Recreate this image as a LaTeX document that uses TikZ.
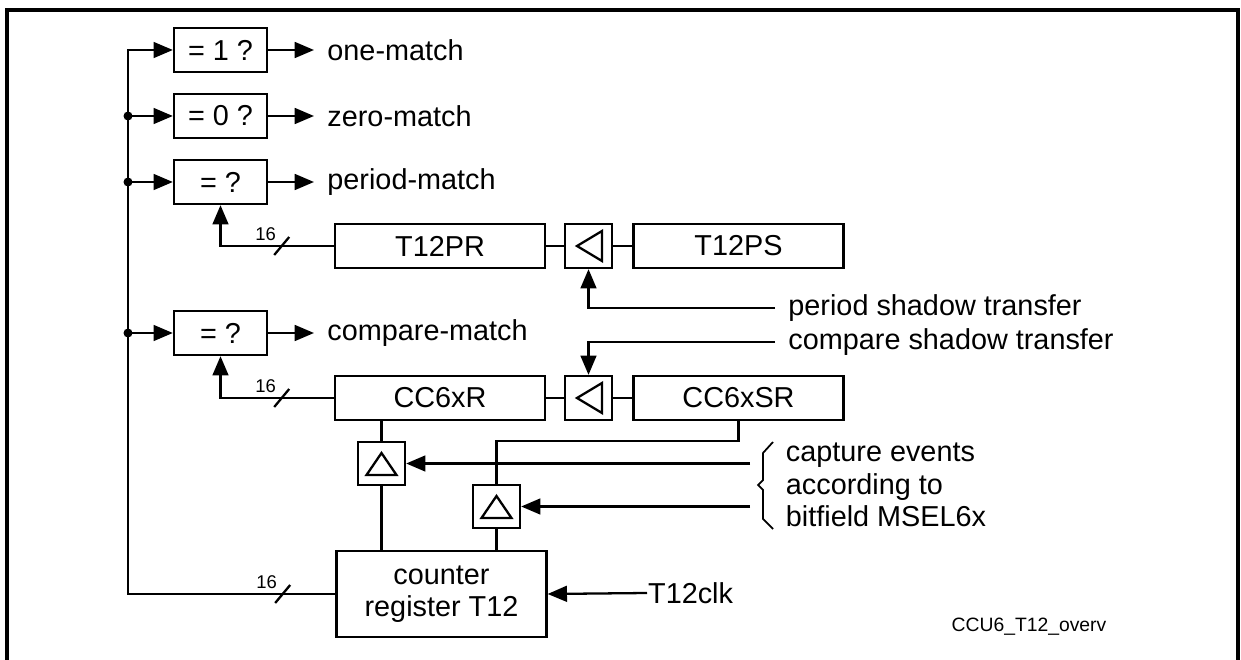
\documentclass[tikz,border=0pt]{standalone}
\usepackage{fontspec}
\setmainfont{Liberation Sans}
\usetikzlibrary{arrows.meta}

\begin{document}
\begin{tikzpicture}[>={Triangle[length=11pt,width=9pt]}, line width=1.3pt,
  font=\fontsize{16.4}{18.4}\selectfont,
  reg/.style={draw, rectangle, minimum width=4.2cm, minimum height=0.88cm, inner sep=0pt},
  cmp/.style={draw, rectangle, minimum width=1.86cm, minimum height=0.88cm, inner sep=0pt},
  latch/.style={draw, rectangle, minimum width=0.94cm, minimum height=0.88cm, inner sep=0pt,
    path picture={\draw ([xshift=-0.23cm]path picture bounding box.center) -- ++(0.5,0.3) -- ++(0,-0.6) -- cycle;}},
  capt/.style={draw, rectangle, minimum width=0.94cm, minimum height=0.86cm, inner sep=0pt,
    path picture={\draw ([yshift=0.21cm]path picture bounding box.center) -- ++(0.3,-0.44) -- ++(-0.6,0) -- cycle;}},
  lbl/.style={anchor=west, inner xsep=7pt, inner ysep=1pt},
  dot/.style={circle, fill, inner sep=0pt, minimum size=0.18cm},
  pics/width16/.style={code={\draw (-0.15,-0.18) -- (0.15,0.18);
    \node[font=\fontsize{10.5}{12}\selectfont] at (-0.32,0.24) {16};}}]
\useasboundingbox (0,0) rectangle (24.82,-13.2);
\draw[line width=2pt] (0.14,-13.5) -- (0.14,-0.2) -- (24.76,-0.2) -- (24.76,-13.5);

% comparators
\node[cmp] (eq1) at (4.41,-1.0) {= 1 ?};
\node[cmp] (eq0) at (4.41,-2.32) {= 0 ?};
\node[cmp] (eqp) at (4.41,-3.64) {= ?};
\node[cmp] (eqc) at (4.41,-6.66) {= ?};
\node[lbl] (one) at (6.28,-1.0) {one-match};
\node[lbl] (zero) at (6.28,-2.32) {zero-match};
\node[lbl] (per) at (6.28,-3.64) {period-match};
\node[lbl] (cmpm) at (6.28,-6.66) {compare-match};

% registers
\node[reg] (t12pr) at (8.8,-4.92) {T12PR};
\node[latch] (spt) at (11.77,-4.92) {};
\node[reg] (t12ps) at (14.77,-4.92) {T12PS};
\node[reg] (ccr) at (8.8,-7.96) {CC6xR};
\node[latch] (sct) at (11.77,-7.96) {};
\node[reg] (ccsr) at (14.77,-7.96) {CC6xSR};
\node[capt] (cap1) at (7.63,-9.27) {};
\node[capt] (cap2) at (9.93,-10.13) {};
\node[reg, minimum height=1.72cm, align=center] (cnt) at (8.83,-11.88) {counter\\register T12};

% inputs
\node[lbl] (pst) at (15.5,-6.16) {period shadow transfer};
\node[lbl] (cst) at (15.5,-6.84) {compare shadow transfer};
\node[lbl, align=left] (evt) at (15.45,-9.7) {capture events\\according to\\bitfield MSEL6x};
\node[anchor=west, inner sep=0pt] (clk) at (12.94,-11.86) {T12clk};
\node[font=\fontsize{11}{13}\selectfont] (fig) at (20.58,-12.54) {CCU6\_T12\_overv};
\coordinate (bus) at (2.56,-1.0);
\coordinate (ev1) at (15.0,-9.27);
\coordinate (ev2) at (15.0,-10.13);

\draw[->] (cnt.west) -| coordinate[pos=0.127] (w3) (bus) -- (eq1.west);
\draw[->] (eq0.west -| bus) node[dot] {} -- (eq0.west);
\draw[->] (eqp.west -| bus) node[dot] {} -- (eqp.west);
\draw[->] (eqc.west -| bus) node[dot] {} -- (eqc.west);
\foreach \a/\b in {eq1/one, eq0/zero, eqp/per, eqc/cmpm}
  \draw[->] (\a.east) -- (\b.west);
\draw[->] (t12pr.west) -| coordinate[pos=0.23] (w1) (eqp.south);
\draw[->] (ccr.west) -| coordinate[pos=0.23] (w2) (eqc.south);
\foreach \w in {w1,w2,w3}
  \pic at (\w) {width16};

\draw (t12pr) -- (spt) -- (t12ps);
\draw (ccr) -- (sct) -- (ccsr);
\draw[->] (pst.west) -| (spt.south);
\draw[->] (cst.west) -| (sct.north);
\draw (cap1.north |- ccr.south) -- (cap1.north);
\draw (cap1.south) -- (cap1.south |- cnt.north);
\draw (ccsr.south) -- (ccsr.south |- cap1.north) -| (cap2.north);
\draw (cap2.south) -- (cap2.south |- cnt.north);
\draw[->] (ev1) -- (cap1.east);
\draw[->] (ev2) -- (cap2.east);
\draw[->] (clk.west) -- (cnt.east);
\draw[line width=1pt] (15.46,-8.84) -- (15.26,-9.06) -- (15.26,-9.6) -- (15.16,-9.7)
  -- (15.26,-9.8) -- (15.26,-10.38) -- (15.46,-10.58);
\end{tikzpicture}
\end{document}
